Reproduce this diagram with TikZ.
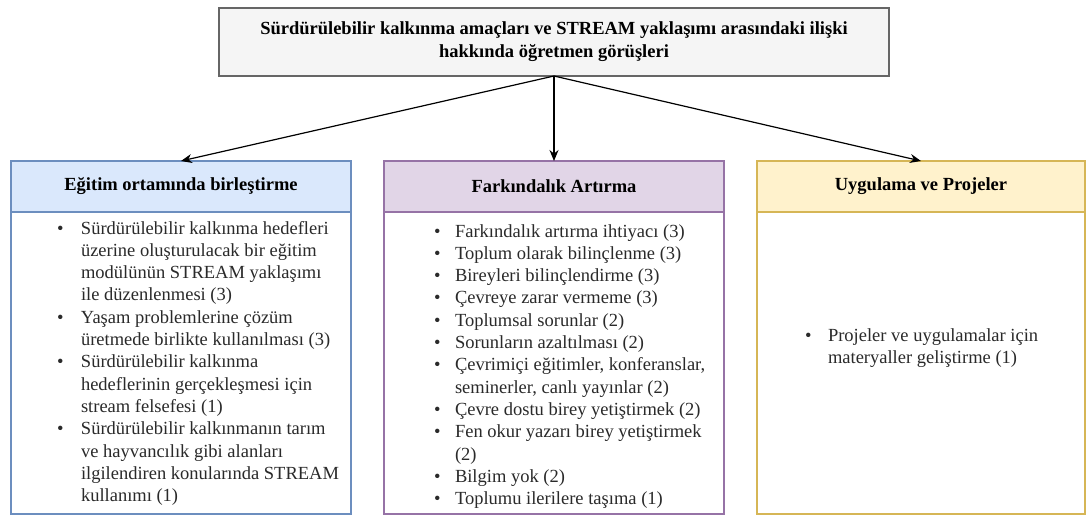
\documentclass[tikz,border=0pt]{standalone}
\usepackage{fontspec}
\setmainfont{Liberation Serif}
\usepackage{array}
\usetikzlibrary{arrows.meta}
\definecolor{titlefill}{HTML}{F5F5F5}
\definecolor{titledraw}{HTML}{666666}
\definecolor{bluefill}{HTML}{DAE8FC}
\definecolor{bluedraw}{HTML}{6C8EBF}
\definecolor{purplefill}{HTML}{E1D5E7}
\definecolor{purpledraw}{HTML}{9673A6}
\definecolor{yellowfill}{HTML}{FFF2CC}
\definecolor{yellowdraw}{HTML}{D6B656}
\definecolor{bodytext}{HTML}{2A2A2A}
\newcommand{\bl}[1]{\begin{tabular}[t]{@{}p{#1}@{}l@{}}}
\begin{document}
\begin{tikzpicture}[x=1pt,y=-1pt,
  every node/.style={inner sep=0pt, outer sep=0pt},
  txt/.style={font=\fontsize{18.5}{22.3}\selectfont},
  titlebox/.style={draw=titledraw, fill=titlefill, line width=1.4pt, minimum width=670pt, minimum height=68pt, align=center, txt, font=\fontsize{18.5}{23}\selectfont\bfseries},
  headbox/.style={line width=1.4pt, minimum width=340pt, minimum height=51pt, txt, font=\fontsize{18.5}{22.3}\selectfont\bfseries},
  bodybox/.style={line width=1.4pt, fill=white, minimum width=340pt, minimum height=302pt, anchor=north},
  listtxt/.style={txt, text=bodytext, anchor=base west},
  conn/.style={line width=1.2pt, -{Stealth[length=11pt,width=9pt]}}
]
\useasboundingbox (0,0) rectangle (1087,516);

\node[titlebox] (title) at (554,42) {Sürdürülebilir kalkınma amaçları ve STREAM yaklaşımı arasındaki ilişki\\hakkında öğretmen görüşleri};

\node[headbox, draw=bluedraw, fill=bluefill] (h1) at (181,186.5) {Eğitim ortamında birleştirme};
\node[headbox, draw=purpledraw, fill=purplefill] (h2) at (554,186.5) {Farkındalık Artırma};
\node[headbox, draw=yellowdraw, fill=yellowfill, minimum width=328pt] (h3) at (921,186.5) {Uygulama ve Projeler};

\node[bodybox, draw=bluedraw] (b1) at (h1.south) {};
\node[bodybox, draw=purpledraw] (b2) at (h2.south) {};
\node[bodybox, draw=yellowdraw, minimum width=328pt] (b3) at (h3.south) {};

\node[listtxt] (l1) at (57,234) {\bl{24pt}
\textbullet & Sürdürülebilir kalkınma hedefleri\\
 & üzerine oluşturulacak bir eğitim\\
 & modülünün STREAM yaklaşımı\\
 & ile düzenlenmesi (3)\\
\textbullet & Yaşam problemlerine çözüm\\
 & üretmede birlikte kullanılması (3)\\
\textbullet & Sürdürülebilir kalkınma\\
 & hedeflerinin gerçekleşmesi için\\
 & stream felsefesi (1)\\
\textbullet & Sürdürülebilir kalkınmanın tarım\\
 & ve hayvancılık gibi alanları\\
 & ilgilendiren konularında STREAM\\
 & kullanımı (1)
\end{tabular}};

\node[listtxt] (l2) at (434,237) {\bl{21pt}
\textbullet & Farkındalık artırma ihtiyacı (3)\\
\textbullet & Toplum olarak bilinçlenme (3)\\
\textbullet & Bireyleri bilinçlendirme (3)\\
\textbullet & Çevreye zarar vermeme (3)\\
\textbullet & Toplumsal sorunlar (2)\\
\textbullet & Sorunların azaltılması (2)\\
\textbullet & Çevrimiçi eğitimler, konferanslar,\\
 & seminerler, canlı yayınlar (2)\\
\textbullet & Çevre dostu birey yetiştirmek (2)\\
\textbullet & Fen okur yazarı birey yetiştirmek\\
 & (2)\\
\textbullet & Bilgim yok (2)\\
\textbullet & Toplumu ilerilere taşıma (1)
\end{tabular}};

\node[listtxt] (l3) at (805,341) {\bl{23pt}
\textbullet & Projeler ve uygulamalar için\\
 & materyaller geliştirme (1)
\end{tabular}};

\draw[conn] (title.south) -- (h1.north);
\draw[conn] (title.south) -- (h2.north);
\draw[conn] (title.south) -- (h3.north);
\end{tikzpicture}
\end{document}
